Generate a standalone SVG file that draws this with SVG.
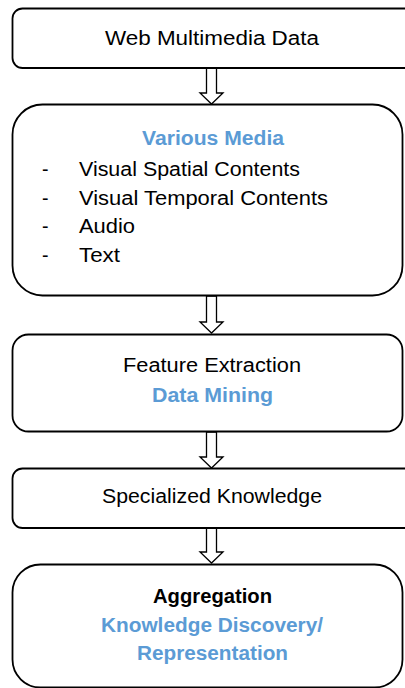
<svg xmlns="http://www.w3.org/2000/svg" width="405" height="688" viewBox="0 0 405 688">
  <style>
    .box { fill: #ffffff; stroke: #000000; stroke-width: 1.8; }
    .arrow { fill: #ffffff; stroke: #000000; stroke-width: 1.3; stroke-linejoin: miter; }
    text { font-family: "Liberation Sans", Arial, sans-serif; font-size: 19.5px; fill: #000000; }
    .c { text-anchor: middle; }
    .b { font-weight: bold; }
    .blue { fill: #5b9bd5; }
  </style>
  <rect width="405" height="688" fill="#ffffff"/>

  <g id="connectors">
    <path class="arrow" d="M206.5,68 H216.5 V93 H223 L211.5,104 L200,93 H206.5 Z"/>
    <path class="arrow" d="M206.5,296 H216.5 V322 H223 L211.5,333 L200,322 H206.5 Z"/>
    <path class="arrow" d="M206.5,432 H216.5 V457 H223 L211.5,468 L200,457 H206.5 Z"/>
    <path class="arrow" d="M206.5,528 H216.5 V552 H223 L211.5,563 L200,552 H206.5 Z"/>
  </g>

  <g id="web-multimedia-data">
    <rect class="box" x="12.5" y="8.5" width="410" height="59.5" rx="10"/>
    <text class="c" x="212" y="45" textLength="214" lengthAdjust="spacingAndGlyphs">Web Multimedia Data</text>
  </g>

  <g id="various-media">
    <rect class="box" x="12.5" y="104.5" width="390" height="191" rx="30"/>
    <text class="c b blue" x="213" y="145" textLength="142" lengthAdjust="spacingAndGlyphs">Various Media</text>
    <text x="42" y="176">-</text><text x="79" y="176" textLength="221" lengthAdjust="spacingAndGlyphs">Visual Spatial Contents</text>
    <text x="42" y="205">-</text><text x="79" y="205" textLength="249" lengthAdjust="spacingAndGlyphs">Visual Temporal Contents</text>
    <text x="42" y="233">-</text><text x="79" y="233" textLength="56" lengthAdjust="spacingAndGlyphs">Audio</text>
    <text x="42" y="262">-</text><text x="79" y="262" textLength="41" lengthAdjust="spacingAndGlyphs">Text</text>
  </g>

  <g id="feature-extraction">
    <rect class="box" x="12.5" y="334.5" width="390" height="97" rx="16"/>
    <text class="c" x="212" y="372" textLength="178" lengthAdjust="spacingAndGlyphs">Feature Extraction</text>
    <text class="c b blue" x="212.5" y="402" textLength="121" lengthAdjust="spacingAndGlyphs">Data Mining</text>
  </g>

  <g id="specialized-knowledge">
    <rect class="box" x="12.5" y="468.5" width="410" height="59.5" rx="10"/>
    <text class="c" x="212" y="503" textLength="220" lengthAdjust="spacingAndGlyphs">Specialized Knowledge</text>
  </g>

  <g id="aggregation">
    <rect class="box" x="12.5" y="564.5" width="390" height="123" rx="28"/>
    <text class="c b" x="212.5" y="603" textLength="119" lengthAdjust="spacingAndGlyphs">Aggregation</text>
    <text class="c b blue" x="212" y="632" textLength="222" lengthAdjust="spacingAndGlyphs">Knowledge Discovery/</text>
    <text class="c b blue" x="212.5" y="660" textLength="151" lengthAdjust="spacingAndGlyphs">Representation</text>
  </g>
</svg>
